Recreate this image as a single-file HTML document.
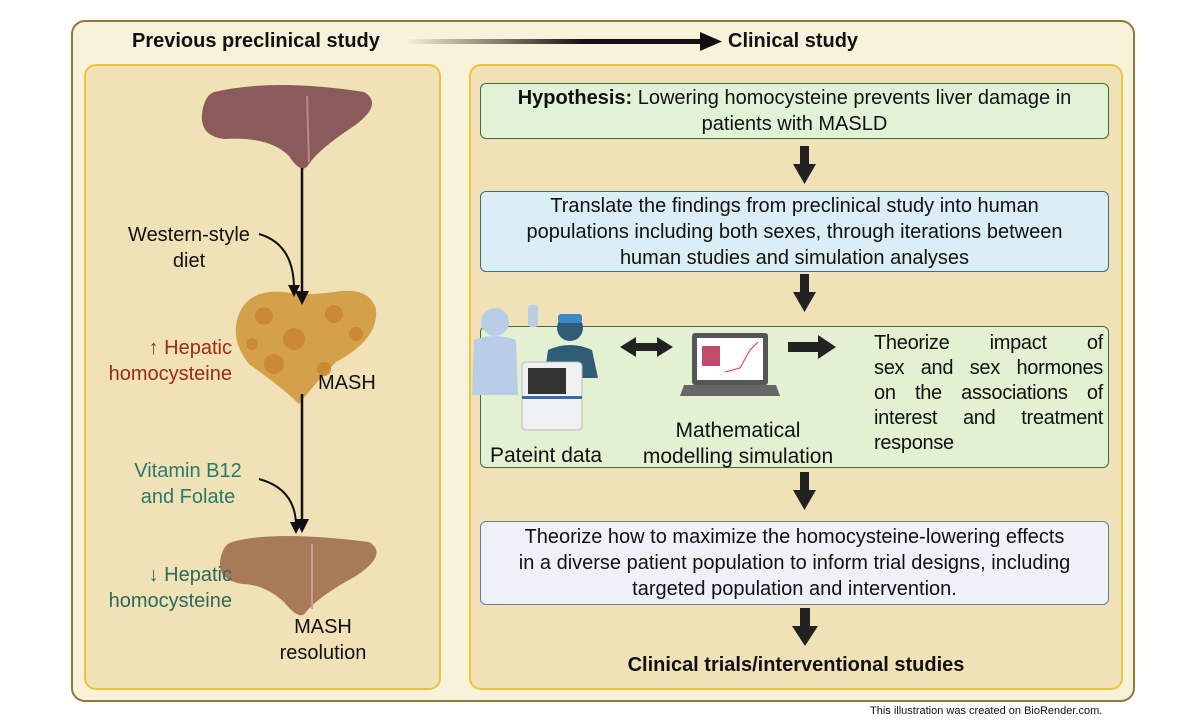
<!DOCTYPE html>
<html><head><meta charset="utf-8"><style>
*{margin:0;padding:0;box-sizing:border-box}
body{width:1200px;height:720px;background:#fff;position:relative;font-family:"Liberation Sans",sans-serif;color:#111;overflow:hidden}
.a{position:absolute}
.box{position:absolute;border-radius:6px;text-align:center;font-size:20px;line-height:26px;display:flex;align-items:center;justify-content:center;white-space:nowrap}
.j span{display:block;text-align:justify;text-align-last:justify}
</style></head><body>
<div class="a" style="left:71px;top:20px;width:1064px;height:682px;background:#f8f2da;border:2px solid #8c7a3c;border-radius:14px"></div>
<div class="a" style="left:132px;top:30px;font-size:20px;font-weight:bold">Previous preclinical study</div>
<div class="a" style="left:728px;top:30px;font-size:20px;font-weight:bold">Clinical study</div>
<svg class="a" style="left:400px;top:30px" width="330" height="24"><defs><linearGradient id="g"><stop offset="0" stop-color="#111" stop-opacity="0"/><stop offset="0.6" stop-color="#111"/></linearGradient></defs><rect x="5" y="9" width="300" height="5" fill="url(#g)"/><polygon points="300,2 322,11.5 300,21" fill="#111"/></svg>
<div class="a" style="left:84px;top:64px;width:357px;height:626px;background:#f1e1b6;border:2px solid #ecc43a;border-radius:12px"></div>
<div class="a" style="left:469px;top:64px;width:654px;height:626px;background:#f1e1b6;border:2px solid #ecc43a;border-radius:12px"></div>
<svg class="a" style="left:84px;top:64px" width="357" height="626">
<path d="M130 28 Q190 14 280 28 Q300 40 270 62 Q235 85 225 100 Q218 112 205 92 Q185 72 140 75 Q116 72 118 50 Q120 32 130 28Z" fill="#8b5a5a"/>
<line x1="223" y1="32" x2="225" y2="98" stroke="#b88" stroke-width="2"/>
<path d="M155 250 Q145 275 165 300 Q200 325 215 340 Q232 318 252 298 Q295 275 292 245 Q285 222 250 228 Q220 232 200 228 Q165 225 155 250Z" fill="#d4a04a"/>
<g fill="#c9852e" opacity=".85"><circle cx="180" cy="252" r="9"/><circle cx="210" cy="275" r="11"/><circle cx="250" cy="250" r="9"/><circle cx="272" cy="270" r="7"/><circle cx="190" cy="300" r="10"/><circle cx="240" cy="305" r="7"/><circle cx="168" cy="280" r="6"/></g>
<path d="M148 478 Q190 466 285 478 Q305 490 272 512 Q235 532 222 548 Q216 558 200 538 Q180 520 158 520 Q134 516 136 498 Q138 481 148 478Z" fill="#a97a5a"/>
<line x1="228" y1="480" x2="228" y2="545" stroke="#c99" stroke-width="2"/>
<line x1="218" y1="104" x2="218" y2="230" stroke="#111" stroke-width="2.5"/><polygon points="211,227 225,227 218,241" fill="#111"/>
<path d="M175 170 Q210 180 210 225" fill="none" stroke="#111" stroke-width="2"/><polygon points="204,221 216,221 210,233" fill="#111"/>
<line x1="218" y1="330" x2="218" y2="458" stroke="#111" stroke-width="2.5"/><polygon points="211,455 225,455 218,469" fill="#111"/>
<path d="M175 415 Q212 425 212 462" fill="none" stroke="#111" stroke-width="2"/><polygon points="206,458 218,458 212,470" fill="#111"/>
</svg>
<div class="a" style="left:114px;top:222px;font-size:20px;line-height:26px;text-align:center;width:150px">Western-style<br>diet</div>
<div class="a" style="left:90px;top:335px;font-size:20px;line-height:26px;text-align:right;width:142px;color:#9c2a14">↑ Hepatic<br>homocysteine</div>
<div class="a" style="left:318px;top:372px;font-size:20px">MASH</div>
<div class="a" style="left:108px;top:458px;font-size:20px;line-height:26px;text-align:center;width:160px;color:#2a7a6a">Vitamin B12<br>and Folate</div>
<div class="a" style="left:90px;top:562px;font-size:20px;line-height:26px;text-align:right;width:142px;color:#2a6a5a">↓ Hepatic<br>homocysteine</div>
<div class="a" style="left:268px;top:614px;font-size:20px;line-height:26px;text-align:center;width:110px">MASH<br>resolution</div>
<div class="box" style="left:480px;top:83px;width:629px;height:56px;background:#e1f2d6;border:1.5px solid #3e6e3a"><span><b>Hypothesis:</b> Lowering homocysteine prevents liver damage in<br>patients with MASLD</span></div>
<div class="box" style="left:480px;top:191px;width:629px;height:81px;background:#dbeef6;border:1.5px solid #3e6e7a"><span>Translate the findings from preclinical study into human<br>populations including both sexes, through iterations between<br>human studies and simulation analyses</span></div>
<div class="a" style="left:480px;top:326px;width:629px;height:142px;background:#e3f0d2;border:1.5px solid #3e6e3a;border-radius:6px"></div>
<div class="box" style="left:480px;top:521px;width:629px;height:84px;background:#eef2f8;border:1.5px solid #6a7a9a"><span>Theorize how to maximize the homocysteine-lowering effects<br>in a diverse patient population to inform trial designs, including<br>targeted population and intervention.</span></div>
<svg class="a" style="left:470px;top:140px" width="650" height="530">
<g fill="#222"><rect x="330" y="6" width="9" height="20"/><polygon points="323,24 346,24 334.5,44"/>
<rect x="330" y="134" width="9" height="20"/><polygon points="323,152 346,152 334.5,172"/>
<rect x="330" y="332" width="9" height="20"/><polygon points="323,350 346,350 334.5,370"/>
<rect x="330" y="468" width="10" height="20"/><polygon points="322,486 348,486 335,506"/>
<polygon points="150,207 166,197 166,203 187,203 187,197 203,207 187,217 187,211 166,211 166,217"/>
<rect x="318" y="202" width="32" height="10"/><polygon points="348,195 366,207 348,219"/></g>
<rect x="222" y="193" width="76" height="52" rx="3" fill="#555"/><rect x="227" y="198" width="66" height="42" fill="#fff"/><rect x="232" y="206" width="18" height="20" fill="#c24a6a"/><polyline points="255,232 270,228 280,210 288,202" fill="none" stroke="#d33"/>
<polygon points="214,245 306,245 310,256 210,256" fill="#666"/>
<circle cx="25" cy="182" r="14" fill="#b9cde6"/><path d="M4 200 Q25 192 46 200 L48 255 L2 255Z" fill="#b9cde6"/>
<rect x="58" y="165" width="10" height="22" rx="3" fill="#b9cde6"/>
<circle cx="100" cy="188" r="13" fill="#2f5c76"/><path d="M78 210 Q100 200 122 210 L128 238 L74 238Z" fill="#2f5c76"/><rect x="88" y="174" width="24" height="9" rx="3" fill="#3f86c6"/>
<rect x="52" y="222" width="60" height="68" rx="4" fill="#eef0f2" stroke="#bbb"/><rect x="58" y="228" width="38" height="26" fill="#333"/><rect x="52" y="256" width="60" height="3" fill="#3a6aa8"/>
</svg>
<div class="a" style="left:490px;top:444px;font-size:21px">Pateint data</div>
<div class="a" style="left:628px;top:418px;font-size:21px;line-height:26px;text-align:center;width:220px">Mathematical<br>modelling simulation</div>
<div class="a j" style="left:874px;top:331px;font-size:20px;line-height:25px;width:229px;letter-spacing:-0.3px"><span>Theorize impact of</span><span>sex and sex hormones</span><span>on the associations of</span><span>interest and treatment</span><span style="text-align-last:left">response</span></div>
<div class="a" style="left:469px;top:654px;width:654px;text-align:center;font-size:20px;font-weight:bold">Clinical trials/interventional studies</div>
<div class="a" style="left:870px;top:705px;font-size:11px">This illustration was created on BioRender.com.</div>
</body></html>
